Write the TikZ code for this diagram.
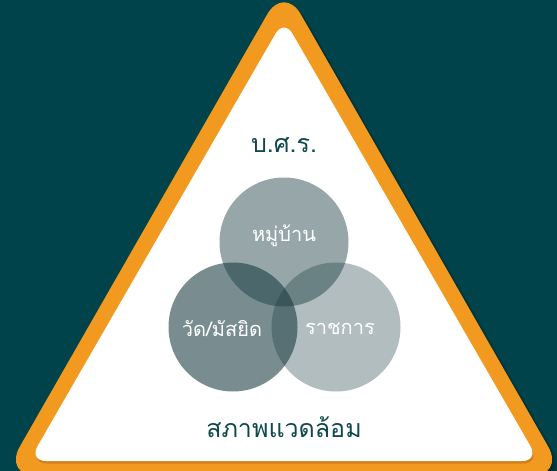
\documentclass[tikz,border=0pt]{standalone}
\usepackage{fontspec}
\newfontfamily\thai[Script=Thai]{Loma}
\definecolor{bg}{RGB}{0,67,74}
\definecolor{org}{RGB}{242,154,31}
\definecolor{orgdark}{RGB}{185,112,24}
\definecolor{ink}{RGB}{14,72,78}
\definecolor{cbase}{RGB}{20,55,60}
\tikzset{
  lbl/.style={text=ink, font=\thai\fontsize{25}{28}\selectfont, inner sep=0pt},
  ctext/.style={text=white, font=\thai\fontsize{20}{24}\selectfont, inner sep=0pt},
  venn/.style={fill=cbase, draw=none}
}
\begin{document}
\begin{tikzpicture}[x=1pt,y=-1pt]
\useasboundingbox (0,0) rectangle (557,471);
\clip (0,0) rectangle (557,471);
\fill[bg] (0,0) rectangle (557,471);
% soft shadow of the orange frame
\foreach \s/\o in {7/0.06,5/0.08,3/0.1,1.5/0.12}{
  \fill[black, opacity=\o, rounded corners=34pt, shift={(\s pt,-\s pt)}]
    (284,-15) -- (565,476) -- (3,476) -- cycle;
}
% orange frame
\fill[org, rounded corners=34pt] (284,-15) -- (565,476) -- (3,476) -- cycle;
% shadow of the white panel
\fill[orgdark, opacity=0.6, rounded corners=17pt, shift={(1pt,-2.5pt)}]
  (284,19) -- (539,461) -- (29,461) -- cycle;
% white panel
\fill[white, rounded corners=17pt] (284,19) -- (539,461) -- (29,461) -- cycle;
% venn circles
\fill[venn, opacity=0.44] (284,242) circle[radius=64.5pt];
\fill[venn, opacity=0.57] (233,327) circle[radius=64.5pt];
\fill[venn, opacity=0.33] (336,327) circle[radius=64.5pt];
% texts
\node[lbl] (bsr) at (284,145) {บ.ศ.ร.};
\node[ctext] (village) at (284,236) {หมู่บ้าน};
\node[ctext] (temple) at (222,329) {วัด/มัสยิด};
\node[ctext] (gov) at (340,329) {ราชการ};
\node[lbl] (env) at (284,427) {สภาพแวดล้อม};
\end{tikzpicture}
\end{document}
